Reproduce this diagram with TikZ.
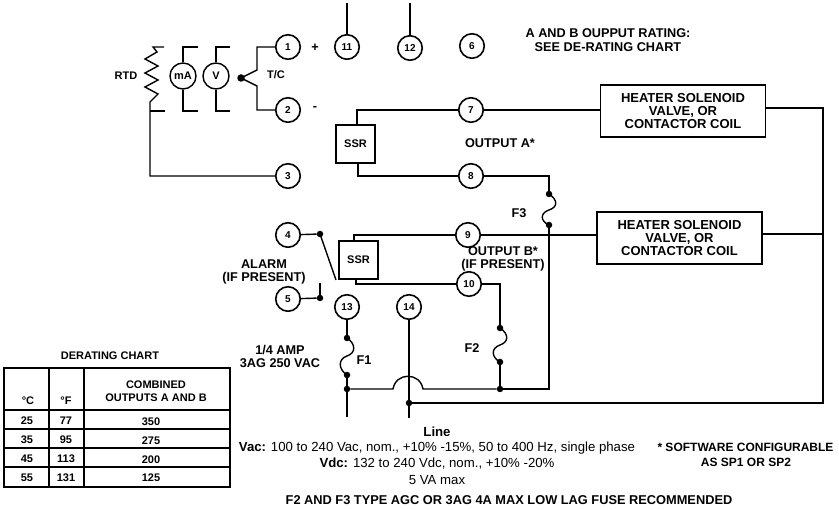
\documentclass[tikz,border=0pt]{standalone}
\usepackage{fontspec}
\setmainfont{Liberation Sans}
\tikzset{
  wire/.style={line width=1.4pt,line join=miter},
  term/.style={circle,draw,line width=1.6pt,minimum size=24.5pt,inner sep=0pt,font=\bfseries\fontsize{10}{11}\selectfont,fill=white},
  meter/.style={circle,draw,line width=1.4pt,minimum size=26pt,inner sep=0pt,font=\bfseries\fontsize{11}{12}\selectfont,fill=white},
  ssrbox/.style={draw,line width=1.6pt,minimum width=39pt,minimum height=38pt,inner sep=0pt,font=\bfseries\fontsize{11}{12}\selectfont,fill=white},
  coil/.style={draw,line width=1.6pt,minimum width=165pt,minimum height=52pt,inner sep=0pt,align=center,font=\bfseries\fontsize{13}{13}\selectfont,fill=white},
  lab/.style={inner sep=0pt,align=center,font=\bfseries\fontsize{12.7}{13.5}\selectfont},
  cell/.style={inner sep=0pt,align=center,font=\bfseries\fontsize{11}{12.5}\selectfont},
  note/.style={inner sep=0pt,align=center,font=\fontsize{13.2}{16}\selectfont},
  jdot/.style={circle,fill=black,minimum size=6.5pt,inner sep=0pt}
}
\begin{document}
\begin{tikzpicture}[x=1pt,y=-1pt]
\useasboundingbox (0,0) rectangle (839,510);
% terminals
\node[term] (t1) at (288,47) {1};
\node[term] (t2) at (288,110) {2};
\node[term] (t3) at (288,176) {3};
\node[term] (t4) at (288,235) {4};
\node[term] (t5) at (288,299) {5};
\node[term] (t6) at (472,46) {6};
\node[term] (t7) at (471,110) {7};
\node[term] (t8) at (471,176) {8};
\node[term] (t9) at (468,235) {9};
\node[term] (t10) at (469,284) {10};
\node[term] (t11) at (347,47) {11};
\node[term] (t12) at (410,48) {12};
\node[term] (t13) at (347,307) {13};
\node[term] (t14) at (409,307) {14};
% meters
\node[meter] (ma) at (183,76) {mA};
\node[meter] (v) at (216,76) {V};
% boxes
\node[ssrbox] (ssra) at (355.5,144) {SSR};
\node[ssrbox] (ssrb) at (358.5,260) {SSR};
\node[coil] (coila) at (683,111) {HEATER SOLENOID\\VALVE, OR\\CONTACTOR COIL};
\node[coil] (coilb) at (679.5,238) {HEATER SOLENOID\\VALVE, OR\\CONTACTOR COIL};
% free ends and junctions
\coordinate (top11) at (347,3);
\coordinate (top12) at (410,3);
\node[jdot,minimum size=7.5pt] (tc) at (241,78) {};
\coordinate (tcu) at (257,70);
\coordinate (tcl) at (257,86);
\coordinate (tcut) at (257,47);
\coordinate (tclb) at (257,110);
\coordinate (matt) at (198,47);
\coordinate (mabt) at (198,111);
\coordinate (vtt) at (230,47);
\coordinate (vbt) at (230,111);
\coordinate (rtdt) at (164,47);
\coordinate (rtdb) at (165,111);
\coordinate (rtdj) at (150,111);
\coordinate (busL) at (150,176);
\node[jdot] (f3a) at (549,194) {};
\node[jdot] (f3b) at (549,225) {};
\node[jdot] (f2a) at (500,328) {};
\node[jdot] (f2b) at (500,362) {};
\node[jdot] (f1a) at (347,338) {};
\node[jdot] (f1b) at (347,375) {};
\node[jdot] (j13) at (347,389) {};
\node[jdot] (j10) at (500,389) {};
\node[jdot] (j14) at (409,403) {};
\node[jdot] (sw4) at (320,234) {};
\node[jdot] (sw5) at (320,298) {};
\coordinate (sw4e) at (336,280);
\coordinate (sw5e) at (320,283);
\coordinate (end13) at (347,417);
\coordinate (end14) at (409,418);
% wires
\draw[wire] (t11) -- (top11);
\draw[wire] (t12) -- (top12);
\draw[wire] (tc.center) -- (tcu) -- (tcut) -- (t1);
\draw[wire] (tc.center) -- (tcl) -- (tclb) -- (t2);
\draw[wire] (ma) -- (183,47) -- (matt);
\draw[wire] (ma) -- (183,111) -- (mabt);
\draw[wire] (v) -- (216,47) -- (vtt);
\draw[wire] (v) -- (216,111) -- (vbt);
% RTD
\draw[wire] (rtdt) -- (153,47) -- (157,52) -- (145,59) -- (158,66) -- (145,73) -- (158,80) -- (145,87) -- (158,94) -- (150,102) -- (rtdj) -- (busL) -- (t3);
\draw[wire] (rtdj) -- (rtdb);
% SSR A
\draw[wire] (ssra.north -| 357,0) -- (357,110) -- (t7);
\draw[wire] (ssra.south -| 358,0) -- (358,176) -- (t8);
\draw[wire] (t7) -- (coila.west |- t7);
% SSR B
\draw[wire] (ssrb.north -| 354,0) -- (354,235) -- (t9);
\draw[wire] (ssrb.south -| 356,0) -- (356,284) -- (t10);
\draw[wire] (t9) -- (coilb.west |- t9);
% outputs
\draw[wire] (t8) -- (549,176) -- (f3a);
\draw[wire] (f3a.center) .. controls (558,200) and (558,207) .. (549,210) .. controls (540,213) and (540,221) .. (f3b.center);
\draw[wire] (f3b) -- (549,389) -- (j10);
\draw[wire] (t10) -- (500,284) -- (f2a);
\draw[wire] (f2a.center) .. controls (509,334) and (509,342) .. (500,345) .. controls (491,348) and (491,357) .. (f2b.center);
\draw[wire] (f2b) -- (j10);
\draw[wire] (t13) -- (f1a);
\draw[wire] (f1a.center) .. controls (356,344) and (356,353) .. (347,356) .. controls (338,359) and (338,369) .. (f1b.center);
\draw[wire] (f1b) -- (j13) -- (end13);
\draw[wire] (j13) -- (393,389) .. controls (396,372) and (420,372) .. (423,389) -- (j10);
\draw[wire] (t14) -- (end14);
\draw[wire] (j14) -- (823,403) -- (823,108) -- (coila.east |- 0,108);
\draw[wire] (coilb.east |- 0,234) -- (823,234);
\draw[wire] (t4) -- (sw4);
\draw[wire] (sw4.center) -- (sw4e);
\draw[wire] (t5) -- (sw5);
\draw[wire] (sw5.center) -- (sw5e);
% labels
\node[lab,font=\bfseries\fontsize{11}{12}\selectfont] (lrtd) at (126,76) {RTD};
\node[lab,font=\bfseries\fontsize{11}{12}\selectfont] (ltc) at (276,75) {T/C};
\node[lab] (lplus) at (315,48) {+};
\node[lab] (lminus) at (315,108) {-};
\node[lab] (lrate) at (608,40) {A  AND B OUPPUT RATING:\\SEE DE-RATING CHART};
\node[lab] (loa) at (500,143) {OUTPUT A*};
\node[lab] (lf3) at (519,213) {F3};
\node[lab] (lob) at (503,259) {OUTPUT B*\\(IF PRESENT)};
\node[lab] (lalarm) at (264,272) {ALARM\\(IF PRESENT)};
\node[lab] (lamp) at (280,356.5) {1/4 AMP\\3AG 250 VAC};
\node[lab] (lf1) at (364,360) {F1};
\node[lab] (lf2) at (472,348) {F2};
% notes
\node[note,font=\bfseries\fontsize{13.2}{16}\selectfont] (lline) at (437,432) {Line};
\node[note] (lvac) at (437,448) {\textbf{Vac:} 100 to 240 Vac, nom., +10\% -15\%, 50 to 400 Hz, single phase};
\node[note] (lvdc) at (437,464) {\textbf{Vdc:} 132 to 240 Vdc, nom., +10\% -20\%};
\node[note] (lva) at (437,480) {5 VA max};
\node[lab,font=\bfseries\fontsize{12}{13}\selectfont] (lsoft) at (745.5,447) {* SOFTWARE CONFIGURABLE};
\node[lab,font=\bfseries\fontsize{12}{13}\selectfont] (lsp) at (746,462) {AS SP1 OR SP2};
\node[lab,font=\bfseries\fontsize{12.8}{13}\selectfont] (lfuse) at (509,500) {F2 AND F3 TYPE AGC OR 3AG 4A MAX LOW LAG FUSE RECOMMENDED};
% derating chart
\node[cell] (ltitle) at (110,356) {DERATING CHART};
\draw[line width=1.6pt] (4,368) rectangle (230,487);
\foreach \yy in {410,429,448,467}{\draw[line width=1.6pt] (4,\yy) -- (230,\yy);}
\draw[line width=1.6pt] (49,368) -- (49,487);
\draw[line width=1.6pt] (84,368) -- (84,487);
\node[cell] (hc) at (28,401) {°C};
\node[cell] (hf) at (66,401) {°F};
\node[cell] (hm) at (156,391) {COMBINED\\OUTPUTS A AND B};
\node[cell] (a1) at (27,421) {25};
\node[cell] (a2) at (27,440) {35};
\node[cell] (a3) at (27,459) {45};
\node[cell] (a4) at (27,478) {55};
\node[cell] (b1) at (66,421) {77};
\node[cell] (b2) at (66,440) {95};
\node[cell] (b3) at (66,459) {113};
\node[cell] (b4) at (66,478) {131};
\node[cell] (c1) at (151,422) {350};
\node[cell] (c2) at (151,441) {275};
\node[cell] (c3) at (151,460) {200};
\node[cell] (c4) at (151,478) {125};
\end{tikzpicture}
\end{document}
